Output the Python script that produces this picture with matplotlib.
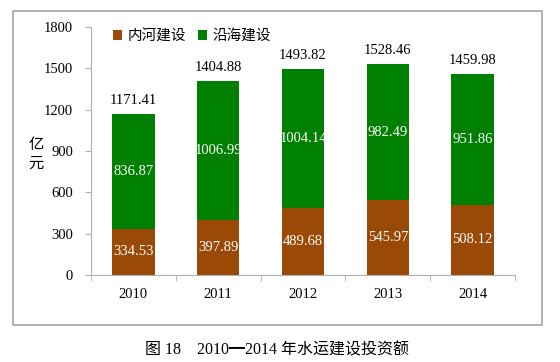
import matplotlib
matplotlib.use("Agg")
import matplotlib.pyplot as plt
from matplotlib.patches import Rectangle
import numpy as np

years = ["2010", "2011", "2012", "2013", "2014"]
inland = [334.53, 397.89, 489.68, 545.97, 508.12]
coastal = [836.87, 1006.99, 1004.14, 982.49, 951.86]
totals = [1171.41, 1404.88, 1493.82, 1528.46, 1459.98]
series_names = ["内河建设", "沿海建设"]
yticks = [0, 300, 600, 900, 1200, 1500, 1800]
caption = "图 18　2010━2014 年水运建设投资额"

brown = "#9a4a06"
green = "#008000"
serif = ["Liberation Serif", "DejaVu Serif"]
cjk = ["Noto Sans CJK SC", "DejaVu Sans"]
mixed = ["Liberation Serif", "Noto Sans CJK SC", "DejaVu Sans"]

fig = plt.figure(figsize=(5.6, 3.62), dpi=100)
fig.patch.set_facecolor("white")

# outer frame
fig.patches.append(Rectangle((13/560, 1-325/362), 529/560, 314/362,
                             transform=fig.transFigure, fill=False,
                             edgecolor="#a6a6a6", linewidth=1.2))

ax = fig.add_axes([91/560, 1-275/362, (515-91)/560, (275-27)/362])
x = np.arange(len(years))
w = 0.5
ax.bar(x, inland, width=w, color=brown, label=series_names[0], zorder=2)
ax.bar(x, coastal, width=w, bottom=inland, color=green, label=series_names[1], zorder=2)

for i in range(len(years)):
    ax.text(x[i], inland[i]/2, f"{inland[i]:.2f}", ha="center", va="center",
            color="white", fontsize=10.5, family=serif)
    ax.text(x[i], inland[i] + coastal[i]/2, f"{coastal[i]:.2f}", ha="center", va="center",
            color="white", fontsize=10.5, family=serif)
    ax.annotate(f"{totals[i]:.2f}", (x[i], totals[i]), xytext=(0, 5),
                textcoords="offset points", ha="center", va="bottom",
                color="black", fontsize=10.5, family=serif)

ax.set_xlim(-0.5, len(years) - 0.5)
ax.set_ylim(0, 1800)
ax.set_yticks(yticks)
ax.set_yticklabels([str(v) for v in yticks], family=serif, fontsize=10.5)
ax.set_xticks(x)
ax.set_xticklabels(years, family=serif, fontsize=10.5)
ax.set_xticks(np.arange(-0.5, len(years)), minor=True)
ax.tick_params(axis="x", which="major", length=0, pad=9)
ax.tick_params(axis="x", which="minor", length=4, color="#b0b0b0")
ax.tick_params(axis="y", length=4, color="#b0b0b0", pad=9)
for s in ["top", "right"]:
    ax.spines[s].set_visible(False)
for s in ["left", "bottom"]:
    ax.spines[s].set_color("#b0b0b0")

fig.text(36/560, 1-154/362, "亿\n元", ha="center", va="center",
         fontsize=11, family=cjk, linespacing=1.1)

ax.legend(loc="upper left", bbox_to_anchor=(100/560, 1-16/362),
          bbox_transform=fig.transFigure, ncol=2, frameon=False,
          prop={"family": cjk, "size": 10.5}, handlelength=0.6,
          handleheight=0.6, handletextpad=0.4, columnspacing=0.8)

fig.text(277/560, 1-350/362, caption, ha="center", va="center",
         fontsize=11.5, family=mixed)

fig.savefig("out.png", dpi=100)
